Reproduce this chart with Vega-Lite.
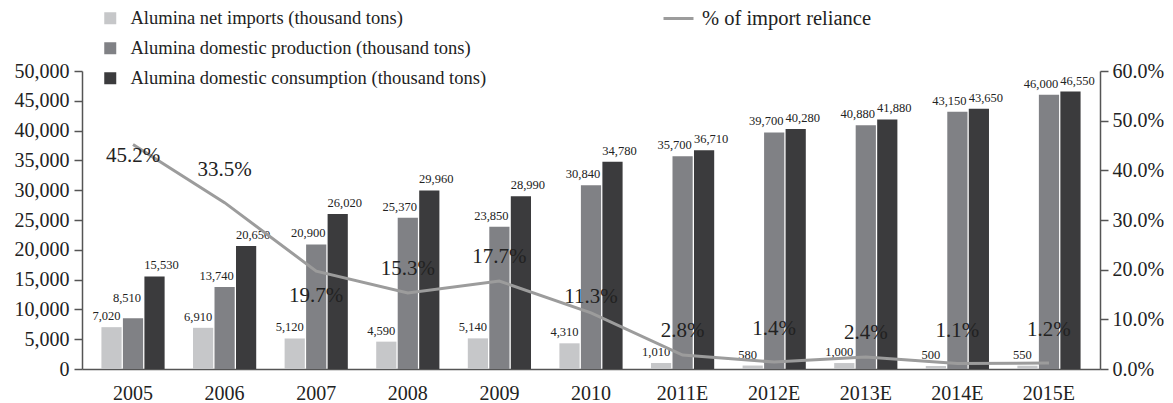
{
  "$schema": "https://vega.github.io/schema/vega-lite/v6.json",
  "width": 1018,
  "height": 298,
  "autosize": {"type": "none"},
  "padding": {"left": 82, "top": 71, "right": 73, "bottom": 34},
  "background": "white",
  "config": {
    "font": "Liberation Serif",
    "text": {"font": "Liberation Serif"},
    "view": {"stroke": null},
    "axis": {"grid": false, "domainColor": "#555555", "domainWidth": 1.5, "tickColor": "#555555", "tickWidth": 1.5, "tickSize": 8, "labelFont": "Liberation Serif", "labelFontSize": 20, "labelColor": "#222222", "labelPadding": 5, "title": null},
    "legend": {"padding": 0, "labelFont": "Liberation Serif", "labelFontSize": 18.5, "labelColor": "#222222", "labelLimit": 0, "title": null}
  },
  "datasets": {
    "d": [
      {"year": "2005", "imports": 7020, "production": 8510, "consumption": 15530, "pct": 0.452},
      {"year": "2006", "imports": 6910, "production": 13740, "consumption": 20650, "pct": 0.335},
      {"year": "2007", "imports": 5120, "production": 20900, "consumption": 26020, "pct": 0.197},
      {"year": "2008", "imports": 4590, "production": 25370, "consumption": 29960, "pct": 0.153},
      {"year": "2009", "imports": 5140, "production": 23850, "consumption": 28990, "pct": 0.177},
      {"year": "2010", "imports": 4310, "production": 30840, "consumption": 34780, "pct": 0.113},
      {"year": "2011E", "imports": 1010, "production": 35700, "consumption": 36710, "pct": 0.028},
      {"year": "2012E", "imports": 580, "production": 39700, "consumption": 40280, "pct": 0.014},
      {"year": "2013E", "imports": 1000, "production": 40880, "consumption": 41880, "pct": 0.024},
      {"year": "2014E", "imports": 500, "production": 43150, "consumption": 43650, "pct": 0.011},
      {"year": "2015E", "imports": 550, "production": 46000, "consumption": 46550, "pct": 0.012}
    ]
  },
  "data": {"name": "d"},
  "encoding": {
    "x": {"field": "year", "type": "nominal", "sort": null,
      "scale": {"paddingInner": 0.31, "paddingOuter": 0.212},
      "axis": {"ticks": false, "labelAngle": 0, "labelPadding": 14, "labelFont": "Liberation Serif", "domainColor": "#555555"}}
  },
  "layer": [
    {
      "transform": [{"fold": ["imports", "production", "consumption"], "as": ["series", "value"]}],
      "encoding": {
        "xOffset": {"field": "series", "type": "nominal", "sort": ["imports", "production", "consumption"], "scale": {"paddingInner": 0.06}},
        "y": {"field": "value", "type": "quantitative", "scale": {"domain": [0, 50000]},
          "axis": {"values": [0, 5000, 10000, 15000, 20000, 25000, 30000, 35000, 40000, 45000, 50000], "format": ",.0f", "labelFont": "Liberation Serif"}}
      },
      "layer": [
        {
          "mark": {"type": "bar"},
          "encoding": {
            "color": {"field": "series", "type": "nominal",
              "scale": {"domain": ["imports", "production", "consumption"], "range": ["#c6c7c9", "#808185", "#3b3b3d"]},
              "legend": {"orient": "none", "legendX": 19, "legendY": -62, "direction": "vertical", "symbolType": "square", "symbolSize": 144, "symbolStrokeWidth": 0, "labelOffset": 11, "rowPadding": 11, "labelLimit": 0,
                "labelExpr": "datum.value == 'imports' ? 'Alumina net imports (thousand tons)' : datum.value == 'production' ? 'Alumina domestic production (thousand tons)' : 'Alumina domestic consumption (thousand tons)'"}}
          }
        },
        {
          "transform": [{"filter": {"field": "series", "equal": "imports"}}],
          "mark": {"type": "text", "dy": -4, "dx": -5, "fontSize": 12.5, "font": "Liberation Serif", "color": "#222222", "baseline": "bottom"},
          "encoding": {"text": {"field": "value", "type": "quantitative", "format": ",.0f"}}
        },
        {
          "transform": [{"filter": {"field": "series", "equal": "production"}}, {"filter": {"not": {"field": "year", "equal": "2005"}}}],
          "mark": {"type": "text", "dy": -4, "dx": -8, "fontSize": 12.5, "font": "Liberation Serif", "color": "#222222", "baseline": "bottom"},
          "encoding": {"text": {"field": "value", "type": "quantitative", "format": ",.0f"}}
        },
        {
          "transform": [{"filter": {"field": "series", "equal": "production"}}, {"filter": {"field": "year", "equal": "2005"}}],
          "mark": {"type": "text", "dy": -13, "dx": -6, "fontSize": 12.5, "font": "Liberation Serif", "color": "#222222", "baseline": "bottom"},
          "encoding": {"text": {"field": "value", "type": "quantitative", "format": ",.0f"}}
        },
        {
          "transform": [{"filter": {"field": "series", "equal": "consumption"}}],
          "mark": {"type": "text", "dy": -4, "dx": 7, "fontSize": 12.5, "font": "Liberation Serif", "color": "#222222", "baseline": "bottom"},
          "encoding": {"text": {"field": "value", "type": "quantitative", "format": ",.0f"}}
        }
      ]
    },
    {
      "encoding": {
        "y": {"field": "pct", "type": "quantitative", "scale": {"domain": [0, 0.6]},
          "axis": {"orient": "right", "values": [0, 0.1, 0.2, 0.3, 0.4, 0.5, 0.6], "format": ".1%", "labelFont": "Liberation Serif", "labelPadding": 4}}
      },
      "layer": [
        {
          "mark": {"type": "line", "strokeWidth": 3},
          "encoding": {
            "stroke": {"datum": "% of import reliance", "scale": {"range": ["#9c9c9c"]},
              "legend": {"orient": "none", "legendX": 580, "legendY": -69, "symbolStrokeWidth": 3, "symbolSize": 900, "labelOffset": 7, "labelLimit": 0, "labelFontSize": 20.5}}
          }
        },
        {
          "transform": [{"filter": {"field": "year", "oneOf": ["2006", "2012E", "2014E", "2015E"]}}],
          "mark": {"type": "text", "dy": -33, "fontSize": 21, "font": "Liberation Serif", "color": "#222222"},
          "encoding": {"text": {"field": "pct", "type": "quantitative", "format": ".1%"}}
        },
        {
          "transform": [{"filter": {"field": "year", "oneOf": ["2008", "2009", "2011E", "2013E"]}}],
          "mark": {"type": "text", "dy": -24, "fontSize": 21, "font": "Liberation Serif", "color": "#222222"},
          "encoding": {"text": {"field": "pct", "type": "quantitative", "format": ".1%"}}
        },
        {
          "transform": [{"filter": {"field": "year", "oneOf": ["2010"]}}],
          "mark": {"type": "text", "dy": -16, "fontSize": 21, "font": "Liberation Serif", "color": "#222222"},
          "encoding": {"text": {"field": "pct", "type": "quantitative", "format": ".1%"}}
        },
        {
          "transform": [{"filter": {"field": "year", "oneOf": ["2005"]}}],
          "mark": {"type": "text", "dy": 11, "fontSize": 21, "font": "Liberation Serif", "color": "#222222"},
          "encoding": {"text": {"field": "pct", "type": "quantitative", "format": ".1%"}}
        },
        {
          "transform": [{"filter": {"field": "year", "oneOf": ["2007"]}}],
          "mark": {"type": "text", "dy": 25, "fontSize": 21, "font": "Liberation Serif", "color": "#222222"},
          "encoding": {"text": {"field": "pct", "type": "quantitative", "format": ".1%"}}
        }
      ]
    }
  ],
  "resolve": {"scale": {"y": "independent"}}
}
